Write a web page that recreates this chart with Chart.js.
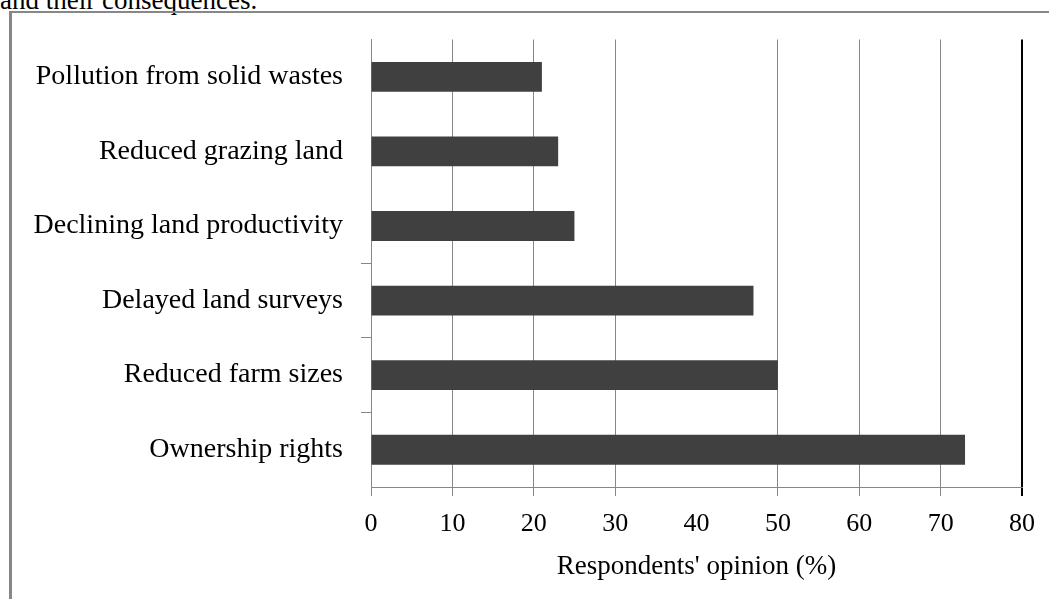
<!DOCTYPE html>
<html>
<head>
<meta charset="utf-8">
<script src="https://cdn.jsdelivr.net/npm/chart.js@4.4.1/dist/chart.umd.min.js"></script>
<style>
  html, body { margin: 0; padding: 0; background: #fff; overflow: hidden; }
  body { width: 1049px; height: 599px; position: relative; }
  #caption {
    position: absolute; left: 0; top: -13px;
    font: 27px "Liberation Serif", "Times New Roman", serif;
    line-height: 27px; color: #000; white-space: nowrap;
  }
  #frame {
    position: absolute; left: 9px; top: 11px; width: 1200px; height: 800px;
    border-left: 3px solid #878787; border-top: 2px solid #878787;
  }
  #wrap { position: absolute; left: 0; top: 0; width: 1049px; height: 599px; }
</style>
</head>
<body>
<div id="caption">and their consequences.</div>
<div id="frame"></div>
<div id="wrap"><canvas id="chart"></canvas></div>
<script>
// Land fragmentation consequences — respondents' opinion (%)
const categories = [
  "Pollution from solid wastes",
  "Reduced grazing land",
  "Declining land productivity",
  "Delayed land surveys",
  "Reduced farm sizes",
  "Ownership rights",
];
const opinionPct = [21, 23, 25, 47, 50, 73];
const xTicks = [0, 10, 20, 30, 40, 50, 60, 70, 80];

const GRID = "#878787";
const SERIF = "'Liberation Serif', 'Times New Roman', serif";

Chart.defaults.font.family = SERIF;
Chart.defaults.color = "#000";

new Chart(document.getElementById("chart"), {
  type: "bar",
  data: {
    labels: categories,
    datasets: [
      {
        data: opinionPct,
        backgroundColor: "#404040",
        borderWidth: 0,
        barPercentage: 0.4,
        categoryPercentage: 1,
      },
    ],
  },
  options: {
    indexAxis: "y",
    responsive: true,
    maintainAspectRatio: false,
    animation: false,
    layout: { padding: { top: 39.5, right: 27, bottom: 0, left: 0 } },
    plugins: { legend: { display: false }, tooltip: { enabled: false } },
    scales: {
      x: {
        min: 0,
        max: 80,
        afterBuildTicks(axis) {
          axis.ticks = xTicks.map((v) => ({ value: v }));
        },
        afterFit(axis) {
          axis.height = 112;
        },
        grid: {
          // the 40 line is missing in the original figure, 80 is a black edge
          color: (ctx) => {
            const v = ctx.tick && ctx.tick.value;
            if (v === 40) return "rgba(0,0,0,0)";
            if (v === 80) return "#000";
            return GRID;
          },
          lineWidth: (ctx) => (ctx.tick && ctx.tick.value === 80 ? 2 : 1),
          tickLength: 9,
        },
        border: { color: GRID, width: 1 },
        ticks: { font: { size: 26 }, color: "#000", padding: 13, maxRotation: 0 },
        title: {
          display: true,
          text: "Respondents' opinion (%)",
          font: { size: 27 },
          color: "#000",
          padding: { top: 0, bottom: 16 },
        },
      },
      y: {
        afterFit(axis) {
          axis.width = 371;
        },
        grid: {
          offset: true,
          drawOnChartArea: false,
          tickLength: 10,
          color: (ctx) => (ctx.index >= 3 ? GRID : "rgba(0,0,0,0)"),
        },
        border: { color: GRID, width: 1 },
        ticks: { font: { size: 28 }, color: "#000", padding: 18 },
      },
    },
  },
});
</script>
</body>
</html>
